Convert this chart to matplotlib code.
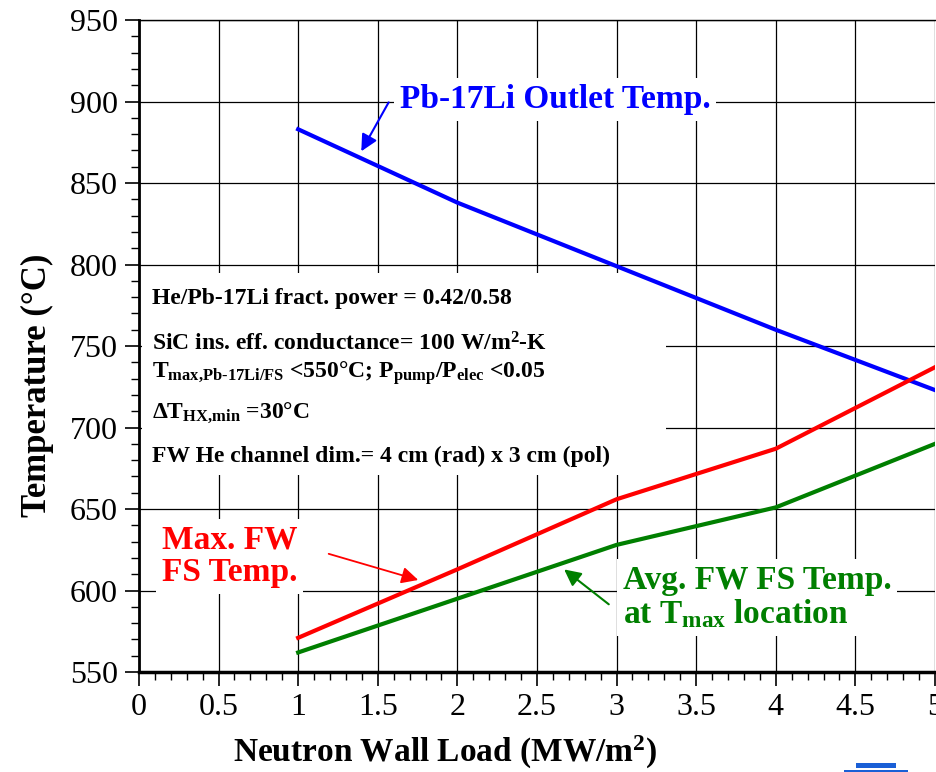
import matplotlib
matplotlib.use('Agg')
import matplotlib.pyplot as plt
from matplotlib.patches import Rectangle
from matplotlib.ticker import MultipleLocator

plt.rcParams['font.family'] = ['Liberation Serif', 'DejaVu Serif']
plt.rcParams['mathtext.fontset'] = 'custom'
plt.rcParams['mathtext.rm'] = 'Liberation Serif:bold'
plt.rcParams['mathtext.bf'] = 'Liberation Serif:bold'
plt.rcParams['mathtext.it'] = 'Liberation Serif:bold'
plt.rcParams['mathtext.default'] = 'bf'

# values
wall_load = [1, 2, 3, 4, 5]
outlet_temp = [883, 838, 799, 760, 723]
max_fw_fs = [571, 613, 656, 687, 737]
avg_fw_fs = [562, 595, 628, 651, 690]

x_ticks = [0, 0.5, 1, 1.5, 2, 2.5, 3, 3.5, 4, 4.5, 5]
x_labels = ['0', '0.5', '1', '1.5', '2', '2.5', '3', '3.5', '4', '4.5', '5']
y_ticks = [550, 600, 650, 700, 750, 800, 850, 900, 950]

fig = plt.figure(figsize=(9.37, 7.72), dpi=100)
ax = fig.add_axes([0.1483, 0.1295, 0.8495, 0.8445])

ax.plot(wall_load, outlet_temp, color='#0000ff', lw=3.0, zorder=2)
ax.plot(wall_load, max_fw_fs, color='#ff0000', lw=3.0, zorder=2)
ax.plot(wall_load, avg_fw_fs, color='#007f00', lw=3.0, zorder=2)

ax.set_xlim(0, 5)
ax.set_ylim(550, 950)
ax.set_xticks(x_ticks)
ax.set_xticklabels(x_labels)
ax.set_yticks(y_ticks)
ax.xaxis.set_minor_locator(MultipleLocator(0.1))
ax.yaxis.set_minor_locator(MultipleLocator(10))
ax.tick_params(which='major', direction='out', length=10, width=1.2, labelsize=23, pad=5)
ax.tick_params(which='minor', direction='out', length=6, width=1.0)
ax.set_axisbelow(True)
ax.grid(True, which='major', color='black', lw=0.9)

ax.spines['right'].set_visible(False)
ax.spines['top'].set_linewidth(1.0)
ax.spines['left'].set_linewidth(2.0)
ax.spines['bottom'].set_linewidth(2.5)

ax.set_xlabel('Neutron Wall Load (MW/m$^2$)', fontsize=24, fontweight='bold', va='center')
ax.set_ylabel('Temperature (°C)', fontsize=25, fontweight='bold', va='center')
ax.xaxis.set_label_coords(0.384, -0.124)
ax.yaxis.set_label_coords(-0.127, 0.44)

# white panel behind the parameter text
ax.add_patch(Rectangle((0.02, 671), 3.29, 124, facecolor='white', edgecolor='none', zorder=1))

box_kw = dict(fontsize=17, fontweight='bold', ha='left', va='baseline', zorder=3)
ax.text(0.082, 776, 'He/Pb-17Li fract. power = 0.42/0.58', **box_kw)
ax.text(0.082, 747, 'SiC ins. eff. conductance= 100 W/m$^2$-K', **box_kw)
ax.text(0.082, 730.5, r'T$_{max{,}Pb\text{-}17Li/FS}$ <550°C; P$_{pump}$/P$_{elec}$ <0.05', **box_kw)
ax.text(0.082, 706, r'$\Delta$T$_{HX{,}min}$ =30°C', **box_kw)
ax.text(0.082, 679, 'FW He channel dim.= 4 cm (rad) x 3 cm (pol)', **box_kw)

wbox = dict(facecolor='white', edgecolor='none', pad=4)
ax.text(1.64, 896, 'Pb-17Li Outlet Temp.', color='#0000ff', fontsize=24,
        fontweight='bold', va='baseline', bbox=wbox)
ax.annotate('', xy=(1.388, 868), xytext=(1.577, 901),
            arrowprops=dict(arrowstyle='-|>', color='#0000ff', lw=1.5, mutation_scale=25))

ax.text(0.145, 605.8, 'Max. FW\nFS Temp.', color='#ff0000', fontsize=24,
        fontweight='bold', va='baseline', linespacing=1.05, bbox=wbox)
ax.annotate('', xy=(1.771, 606), xytext=(1.175, 623),
            arrowprops=dict(arrowstyle='-|>', color='#ff0000', lw=1.3, mutation_scale=25))

ax.text(3.04, 580, 'Avg. FW FS Temp.\nat T$_{max}$ location', color='#007f00', fontsize=24,
        fontweight='bold', va='baseline', linespacing=1.05, bbox=wbox)
ax.annotate('', xy=(2.657, 614), xytext=(2.965, 590.5),
            arrowprops=dict(arrowstyle='-|>', color='#007f00', lw=1.5, mutation_scale=25))

# cut-off blue mark in the lower right corner of the original slide
fig.patches.append(Rectangle((856 / 937, 4 / 772), 40 / 937, 5 / 772, transform=fig.transFigure,
                             facecolor='#1a5fd6', edgecolor='none'))
fig.patches.append(Rectangle((844 / 937, 0), 64 / 937, 2 / 772, transform=fig.transFigure,
                             facecolor='#1a5fd6', edgecolor='none'))

fig.savefig('out.png', dpi=100)
